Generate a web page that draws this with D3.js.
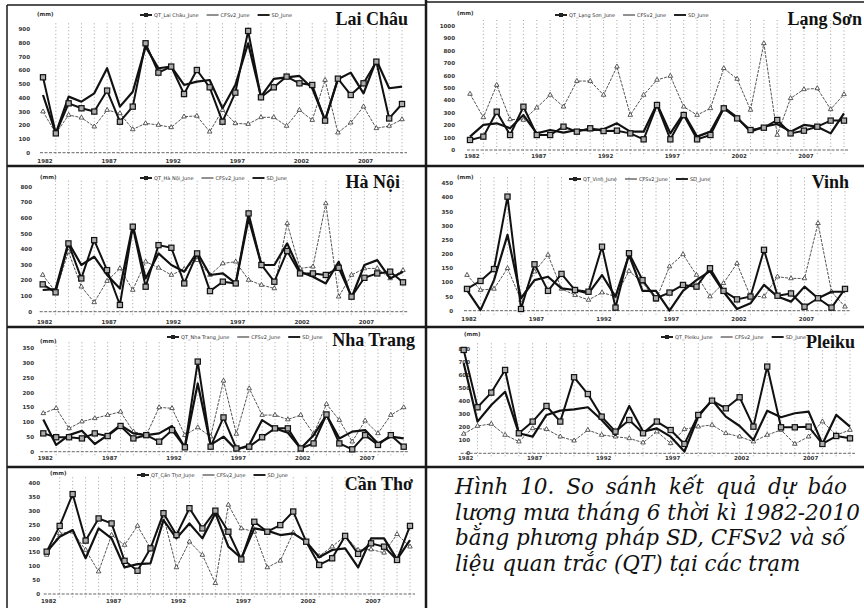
<!DOCTYPE html>
<html lang="vi">
<head>
<meta charset="UTF-8">
<title>Hình 10</title>
<style>
  html,body{margin:0;height:100%;overflow:hidden;background:#fff;}
</style>
</head>
<body>
<svg id="svg"></svg>
<script src="https://d3js.org/d3.v7.min.js"></script>
<script>
// years 1982-2010, one point per year
const years = [1982,1983,1984,1985,1986,1987,1988,1989,1990,1991,1992,1993,1994,1995,1996,
               1997,1998,1999,2000,2001,2002,2003,2004,2005,2006,2007,2008,2009,2010];
const yearTicks = [1982, 1987, 1992, 1997, 2002, 2007];

// June rainfall (mm): QT = observed, SD = downscaled, CFS = CFSv2
const laiChauQT  = [550,141,360,324,300,453,226,336,798,584,628,428,603,477,226,438,888,404,477,555,506,494,234,540,421,506,664,250,355];
const laiChauSD  = [421,141,409,372,433,616,336,445,774,616,628,494,518,530,324,494,798,409,538,550,560,470,238,535,584,433,676,470,482];
const laiChauCFS = [300,141,275,255,190,311,287,170,214,202,185,263,268,153,311,214,209,258,258,195,311,238,530,146,219,336,178,195,243];

const langSonQT  = [81,108,309,121,349,121,121,188,148,175,153,156,134,86,363,86,282,86,121,336,255,161,180,242,134,156,188,237,237];
const langSonSD  = [108,202,215,175,282,134,161,140,161,161,167,215,148,148,371,134,296,108,148,344,263,148,188,210,148,202,188,134,296];
const langSonCFS = [452,263,524,247,242,341,444,349,556,556,444,672,282,444,565,597,349,282,336,659,573,323,860,121,417,489,497,328,449];

const haNoiQT  = [175,124,437,213,458,266,43,544,160,426,409,181,373,132,192,181,629,299,192,388,245,245,235,281,96,217,245,256,188];
const haNoiSD  = [139,145,443,299,352,235,149,554,213,373,299,256,380,235,245,181,597,299,299,437,256,224,181,320,90,299,330,213,256];
const haNoiCFS = [235,128,384,160,60,196,277,139,320,281,235,273,330,235,309,320,203,171,149,565,277,288,693,96,235,277,277,213,266];

const vinhQT  = [77,105,147,403,6,164,70,130,73,67,226,11,203,108,44,64,91,85,150,70,40,50,215,53,61,14,44,11,77];
const vinhSD  = [73,2,108,268,44,108,120,79,73,61,126,50,197,70,70,0,70,108,140,67,6,26,91,50,32,85,44,67,67];
const vinhCFS = [126,73,77,150,38,138,197,77,55,38,64,50,140,100,38,156,199,126,50,97,167,50,50,120,114,114,309,67,14];

const nhaTrangQT  = [62,49,49,45,62,53,87,45,56,34,73,15,305,17,116,11,17,49,79,79,11,28,126,28,8,56,23,56,17];
const nhaTrangSD  = [109,23,56,71,26,56,90,62,56,62,87,15,231,23,51,6,23,107,79,64,11,56,124,45,68,73,28,51,45];
const nhaTrangCFS = [130,147,79,102,113,124,135,68,56,150,147,56,82,51,240,60,214,124,124,109,124,60,161,107,34,105,62,124,150];

const pleikuQT  = [795,354,467,641,154,244,364,244,585,456,282,167,256,154,244,179,72,295,405,346,431,205,667,200,200,205,72,133,115];
const pleikuSD  = [692,244,372,474,154,128,295,328,338,354,256,141,364,167,192,128,13,282,410,282,210,103,328,277,308,321,72,295,205];
const pleikuCFS = [149,210,226,141,90,192,185,128,97,179,141,128,115,82,167,77,185,205,218,154,128,90,141,179,72,128,244,141,179];

const canThoQT  = [153,246,361,193,273,255,120,84,165,292,213,310,237,301,225,125,261,225,249,298,189,105,129,210,145,183,171,123,246];
const canThoSD  = [153,207,231,129,237,201,96,108,111,267,201,255,201,292,171,129,237,229,213,219,189,133,159,165,96,201,201,125,195];
const canThoCFS = [141,219,225,159,81,213,177,246,165,280,96,189,141,39,322,237,225,96,120,222,189,137,171,210,159,161,149,216,171];

const captionLines = [
  "Hình 10. So sánh kết quả dự báo",
  "lượng mưa tháng 6 thời kì 1982-2010",
  "bằng phương pháp SD, CFSv2 và số",
  "liệu quan trắc (QT) tại các trạm"
];

const svg = d3.select("#svg").attr("width", 864).attr("height", 608);
const W = 864, H = 608;

// panel placement
const panels = [
  { name: "Lai Châu",  qt: laiChauQT,  sd: laiChauSD,  cfs: laiChauCFS,  yMax: 900,  step: 100,
    x0: 43,    x1: 402, y0: 152.7, yTop: 29.3,  tickX: 30,  labelY: 163,   legX: 140, legY: 15,  unit: [37, 16],  title: [408, 25] },
  { name: "Lạng Sơn",  qt: langSonQT,  sd: langSonSD,  cfs: langSonCFS,  yMax: 1000, step: 100,
    x0: 470,   x1: 844, y0: 150,   yTop: 26,    tickX: 455, labelY: 158,   legX: 555, legY: 15,  unit: [457, 15], title: [862, 25] },
  { name: "Hà Nội",    qt: haNoiQT,    sd: haNoiSD,    cfs: haNoiCFS,    yMax: 800,  step: 100,
    x0: 42.7,  x1: 403, y0: 311.7, yTop: 186.7, tickX: 32,  labelY: 323.5, legX: 140, legY: 178, unit: [40, 179], title: [400, 188] },
  { name: "Vinh",      qt: vinhQT,     sd: vinhSD,     cfs: vinhCFS,     yMax: 450,  step: 50,
    x0: 467,   x1: 845, y0: 310.7, yTop: 183.3, tickX: 453, labelY: 320.5, legX: 569, legY: 179, unit: [457, 179], title: [849, 188] },
  { name: "Nha Trang", qt: nhaTrangQT, sd: nhaTrangSD, cfs: nhaTrangCFS, yMax: 350,  step: 50,
    x0: 43.3,  x1: 403.7, y0: 451.7, yTop: 348.3, tickX: 34, labelY: 460, legX: 167, legY: 337, unit: [40, 343], title: [415, 346] },
  { name: "Pleiku",    qt: pleikuQT,   sd: pleikuSD,   cfs: pleikuCFS,   yMax: 800,  step: 100,
    x0: 463.7, x1: 850, y0: 453.3, yTop: 349.3, tickX: 470, labelY: 460,   legX: 661, legY: 337, unit: [464, 336], title: [855, 348] },
  { name: "Cần Thơ",   qt: canThoQT,   sd: canThoSD,   cfs: canThoCFS,   yMax: 400,  step: 50,
    x0: 46.7,  x1: 410, y0: 594,   yTop: 483.3, tickX: 40,  labelY: 602.5, legX: 137, legY: 475, unit: [50, 475], title: [413, 490] }
];

// page frame and dividers
const frame = svg.append("g").attr("stroke", "#1a1a1a").attr("fill", "none");
frame.append("line").attr("x1", 7).attr("x2", 7).attr("y1", 5).attr("y2", H).attr("stroke-width", 1.5);
frame.append("line").attr("x1", 7).attr("x2", 426).attr("y1", 5).attr("y2", 5).attr("stroke-width", 1.5);
frame.append("line").attr("x1", 426).attr("x2", W).attr("y1", 2).attr("y2", 2).attr("stroke-width", 1.5);
frame.append("line").attr("x1", 426).attr("x2", 426).attr("y1", 0).attr("y2", H).attr("stroke-width", 2.5);
frame.append("line").attr("x1", 7).attr("x2", W).attr("y1", 166).attr("y2", 166).attr("stroke-width", 2.5);
frame.append("line").attr("x1", 7).attr("x2", W).attr("y1", 327).attr("y2", 327).attr("stroke-width", 2.5);
frame.append("line").attr("x1", 7).attr("x2", W).attr("y1", 467).attr("y2", 467).attr("stroke-width", 2.5);

function drawPanel(p) {
  const g = svg.append("g");
  const x = d3.scaleLinear().domain([years[0], years[years.length - 1]]).range([p.x0, p.x1]);
  const y = d3.scaleLinear().domain([0, p.yMax]).range([p.y0, p.yTop]);
  const yTicks = d3.range(0, p.yMax + 1, p.step);

  // dotted year grid
  g.append("g").selectAll("line").data(years.slice(1)).join("line")
    .attr("x1", d => x(d)).attr("x2", d => x(d))
    .attr("y1", p.yTop - 6).attr("y2", p.y0 + 4)
    .attr("stroke", "#8a8a8a").attr("stroke-width", 0.8).attr("stroke-dasharray", "1,2.5");

  // zero line
  g.append("line").attr("x1", p.x0 - 3).attr("x2", p.x1 + 5)
    .attr("y1", y(0)).attr("y2", y(0))
    .attr("stroke", "#666").attr("stroke-width", 1).attr("stroke-dasharray", "3,1.5");

  // y tick labels
  g.append("g").selectAll("text").data(yTicks).join("text")
    .attr("x", p.tickX).attr("y", d => y(d) + 2)
    .attr("text-anchor", "end")
    .attr("font-family", "DejaVu Sans").attr("font-weight", "bold").attr("font-size", 5.5)
    .attr("fill", "#333").text(d => d);

  // x tick labels
  g.append("g").selectAll("text").data(yearTicks).join("text")
    .attr("x", d => x(d) + 2).attr("y", p.labelY)
    .attr("text-anchor", "middle")
    .attr("font-family", "DejaVu Sans").attr("font-weight", "bold").attr("font-size", 5.5)
    .attr("fill", "#333").text(d => d);

  g.append("text").attr("x", p.unit[0]).attr("y", p.unit[1])
    .attr("font-family", "DejaVu Sans").attr("font-weight", "bold").attr("font-size", 5.5)
    .attr("fill", "#333").text("(mm)");

  const line = vals => d3.line().x((d, i) => x(years[i])).y(d => y(d))(vals);

  // CFSv2
  g.append("path").attr("d", line(p.cfs)).attr("fill", "none")
    .attr("stroke", "#555").attr("stroke-width", 1).attr("stroke-dasharray", "3,1.2");
  g.append("g").selectAll("path").data(p.cfs).join("path")
    .attr("d", d3.symbol(d3.symbolTriangle, 9))
    .attr("transform", (d, i) => `translate(${x(years[i])},${y(d)})`)
    .attr("fill", "#fff").attr("stroke", "#333").attr("stroke-width", 0.8);

  // SD
  g.append("path").attr("d", line(p.sd)).attr("fill", "none")
    .attr("stroke", "#111").attr("stroke-width", 2.2).attr("stroke-linejoin", "round");

  // QT
  g.append("path").attr("d", line(p.qt)).attr("fill", "none")
    .attr("stroke", "#111").attr("stroke-width", 2).attr("stroke-linejoin", "round");
  g.append("g").selectAll("rect").data(p.qt).join("rect")
    .attr("x", (d, i) => x(years[i]) - 2.6).attr("y", d => y(d) - 2.6)
    .attr("width", 5.2).attr("height", 5.2)
    .attr("fill", "#aaa").attr("stroke", "#111").attr("stroke-width", 1.2);

  // legend
  const leg = g.append("g").attr("transform", `translate(${p.legX},${p.legY})`)
    .attr("font-family", "DejaVu Sans").attr("font-size", 5).attr("fill", "#333");
  const items = [
    { label: "QT_" + p.name + "_June", w: 2, mark: "sq" },
    { label: "CFSv2_June", w: 1, mark: "tri" },
    { label: "SD_June", w: 2, mark: null }
  ];
  let lx = 0;
  items.forEach(it => {
    leg.append("line").attr("x1", lx).attr("x2", lx + 12).attr("y1", 0).attr("y2", 0)
      .attr("stroke", "#222").attr("stroke-width", it.w);
    if (it.mark === "sq") {
      leg.append("rect").attr("x", lx + 4).attr("y", -2).attr("width", 4).attr("height", 4)
        .attr("fill", "#222");
    }
    const t = leg.append("text").attr("x", lx + 14).attr("y", 2).text(it.label);
    lx += 14 + t.node().getComputedTextLength() + 8;
  });

  // station name
  g.append("text").attr("x", p.title[0]).attr("y", p.title[1])
    .attr("text-anchor", "end")
    .attr("font-family", "Liberation Serif").attr("font-weight", "bold").attr("font-size", 18)
    .attr("fill", "#111").text(p.name);
}

panels.forEach(drawPanel);

// caption
const cap = svg.append("g")
  .attr("font-family", "DejaVu Serif").attr("font-style", "italic").attr("font-size", 21.5)
  .attr("fill", "#111");
cap.selectAll("text").data(captionLines).join("text")
  .attr("x", 455)
  .attr("y", (d, i) => 494 + i * 25.5)
  .attr("word-spacing", (d, i) => i === 0 ? 5 : 0)
  .text(d => d);
</script>
</body>
</html>
